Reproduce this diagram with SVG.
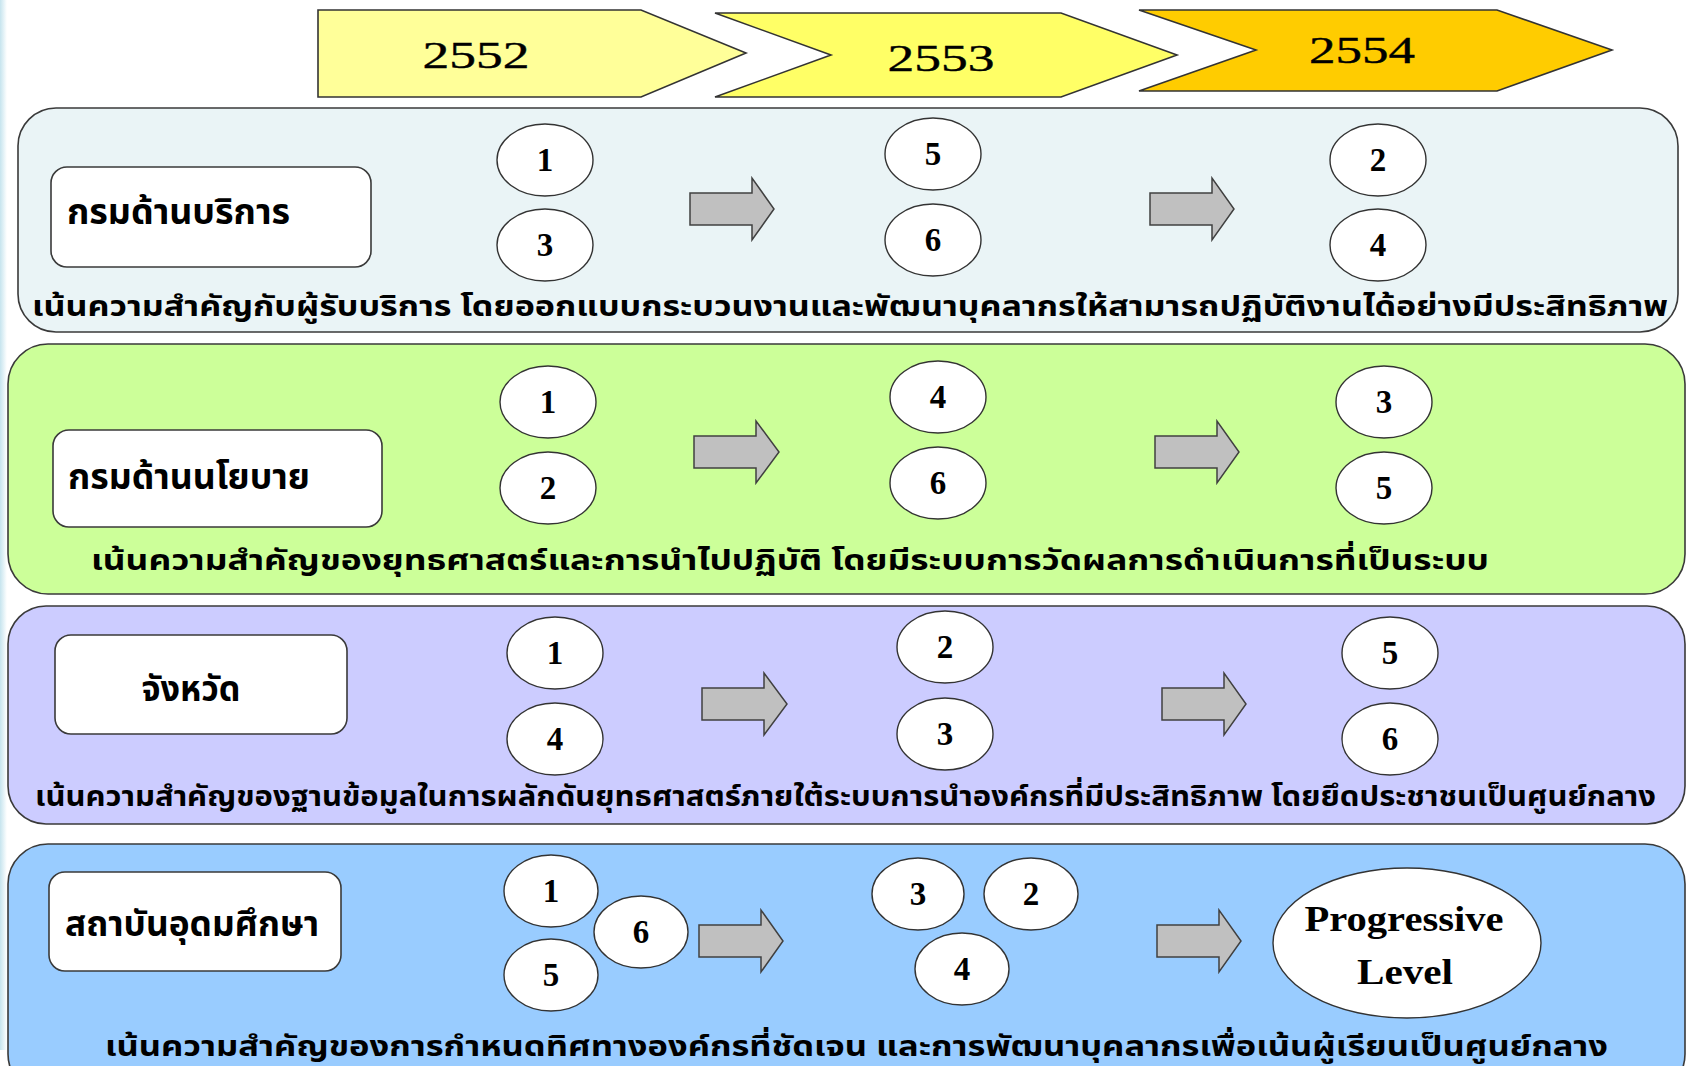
<svg xmlns="http://www.w3.org/2000/svg" width="1686" height="1066" viewBox="0 0 1686 1066">
<defs>
<style>
.panel{stroke:#3a3a3a;stroke-width:1.6}
.lbl{fill:#fff;stroke:#3a3a3a;stroke-width:1.6}
.cir{fill:#fff;stroke:#333;stroke-width:1.4}
.chev{stroke:#333;stroke-width:1.6}
.arr{fill:#c0c0c0;stroke:#404040;stroke-width:1.5;stroke-linejoin:miter}
.num{font-family:"Liberation Serif",serif;font-weight:bold;font-size:33px;fill:#000;text-anchor:middle}
.yr{font-family:"Liberation Serif",serif;font-size:38px;fill:#000;text-anchor:middle;stroke:#000;stroke-width:0.4}
.th{font-family:"Noto Sans Thai","Noto Sans","DejaVu Sans",sans-serif;font-weight:bold;fill:#000}
.lt{font-size:35px}
.cap{font-size:28px}
.pl{font-family:"Liberation Serif",serif;font-weight:bold;font-size:36px;fill:#000;text-anchor:middle}
</style>
<linearGradient id="edge" x1="0" x2="1" y1="0" y2="0">
<stop offset="0" stop-color="#c6e4ee"/>
<stop offset="1" stop-color="#ffffff"/>
</linearGradient>
</defs>
<rect width="1686" height="1066" fill="#fff"/>
<rect x="0" y="0" width="7" height="1050" fill="url(#edge)"/>

<g id="year-2552">
<path class="chev" fill="#ffff99" d="M318,10 H641 L746,53 L641,97 H318 Z"/>
<text class="yr" x="476" y="68" textLength="107" lengthAdjust="spacingAndGlyphs">2552</text>
</g>
<g id="year-2553">
<path class="chev" fill="#ffff66" d="M715,13 H1061 L1177,55 L1061,97 H715 L831,55 Z"/>
<text class="yr" x="941" y="71" textLength="107" lengthAdjust="spacingAndGlyphs">2553</text>
</g>
<g id="year-2554">
<path class="chev" fill="#ffcc00" d="M1139,10 H1497 L1612,50 L1497,91 H1139 L1256,50 Z"/>
<text class="yr" x="1362" y="63" textLength="106" lengthAdjust="spacingAndGlyphs">2554</text>
</g>

<g id="panel-service">
<rect class="panel" x="18" y="108" width="1660" height="224" rx="38" fill="#eaf4f6"/>
<rect class="lbl" x="51" y="167" width="320" height="100" rx="16"/>
<text class="th lt" x="67" y="224" textLength="223" lengthAdjust="spacingAndGlyphs">กรมด้านบริการ</text>
<text class="th cap" x="32" y="316" textLength="1636" lengthAdjust="spacingAndGlyphs">เน้นความสำคัญกับผู้รับบริการ โดยออกแบบกระบวนงานและพัฒนาบุคลากรให้สามารถปฏิบัติงานได้อย่างมีประสิทธิภาพ</text>
</g>
<g id="panel-policy">
<rect class="panel" x="8" y="344" width="1677" height="250" rx="40" fill="#ccff99"/>
<rect class="lbl" x="53" y="430" width="329" height="97" rx="16"/>
<text class="th lt" x="68" y="489" textLength="242" lengthAdjust="spacingAndGlyphs">กรมด้านนโยบาย</text>
<text class="th cap" x="91" y="570" textLength="1398" lengthAdjust="spacingAndGlyphs">เน้นความสำคัญของยุทธศาสตร์และการนำไปปฏิบัติ  โดยมีระบบการวัดผลการดำเนินการที่เป็นระบบ</text>
</g>
<g id="panel-province">
<rect class="panel" x="8" y="606" width="1677" height="218" rx="38" fill="#ccccff"/>
<rect class="lbl" x="55" y="635" width="292" height="99" rx="16"/>
<text class="th lt" x="191" y="701" text-anchor="middle" textLength="99" lengthAdjust="spacingAndGlyphs">จังหวัด</text>
<text class="th cap" x="35" y="806" textLength="1621" lengthAdjust="spacingAndGlyphs">เน้นความสำคัญของฐานข้อมูลในการผลักดันยุทธศาสตร์ภายใต้ระบบการนำองค์กรที่มีประสิทธิภาพ โดยยึดประชาชนเป็นศูนย์กลาง</text>
</g>
<g id="panel-university">
<rect class="panel" x="8" y="844" width="1677" height="250" rx="40" fill="#99ccff"/>
<rect class="lbl" x="49" y="872" width="292" height="99" rx="16"/>
<text class="th lt" x="65" y="936" textLength="254" lengthAdjust="spacingAndGlyphs">สถาบันอุดมศึกษา</text>
<text class="th cap" x="105" y="1056" textLength="1503" lengthAdjust="spacingAndGlyphs">เน้นความสำคัญของการกำหนดทิศทางองค์กรที่ชัดเจน และการพัฒนาบุคลากรเพื่อเน้นผู้เรียนเป็นศูนย์กลาง</text>
</g>

<g id="connectors">
<path class="arr" d="M690,193 H752 V178 L774,209 L752,240 V225 H690 Z"/>
<path class="arr" d="M1150,193 H1212 V178 L1234,209 L1212,240 V225 H1150 Z"/>
<path class="arr" d="M694,436 H756 V421 L779,452 L756,483 V468 H694 Z"/>
<path class="arr" d="M1155,436 H1217 V421 L1239,452 L1217,483 V468 H1155 Z"/>
<path class="arr" d="M702,688 H764 V673 L787,704 L764,735 V720 H702 Z"/>
<path class="arr" d="M1162,688 H1224 V673 L1246,704 L1224,735 V720 H1162 Z"/>
<path class="arr" d="M699,925 H761 V910 L783,941 L761,972 V957 H699 Z"/>
<path class="arr" d="M1157,925 H1219 V910 L1241,941 L1219,972 V957 H1157 Z"/>
</g>

<g id="p1-c1"><ellipse class="cir" cx="545" cy="160" rx="48" ry="36"/><text class="num" x="545" y="171">1</text></g>
<g id="p1-c3"><ellipse class="cir" cx="545" cy="245" rx="48" ry="36"/><text class="num" x="545" y="256">3</text></g>
<g id="p1-c5"><ellipse class="cir" cx="933" cy="154" rx="48" ry="36"/><text class="num" x="933" y="165">5</text></g>
<g id="p1-c6"><ellipse class="cir" cx="933" cy="240" rx="48" ry="36"/><text class="num" x="933" y="251">6</text></g>
<g id="p1-c2"><ellipse class="cir" cx="1378" cy="160" rx="48" ry="36"/><text class="num" x="1378" y="171">2</text></g>
<g id="p1-c4"><ellipse class="cir" cx="1378" cy="245" rx="48" ry="36"/><text class="num" x="1378" y="256">4</text></g>

<g id="p2-c1"><ellipse class="cir" cx="548" cy="402" rx="48" ry="36"/><text class="num" x="548" y="413">1</text></g>
<g id="p2-c2"><ellipse class="cir" cx="548" cy="488" rx="48" ry="36"/><text class="num" x="548" y="499">2</text></g>
<g id="p2-c4"><ellipse class="cir" cx="938" cy="397" rx="48" ry="36"/><text class="num" x="938" y="408">4</text></g>
<g id="p2-c6"><ellipse class="cir" cx="938" cy="483" rx="48" ry="36"/><text class="num" x="938" y="494">6</text></g>
<g id="p2-c3"><ellipse class="cir" cx="1384" cy="402" rx="48" ry="36"/><text class="num" x="1384" y="413">3</text></g>
<g id="p2-c5"><ellipse class="cir" cx="1384" cy="488" rx="48" ry="36"/><text class="num" x="1384" y="499">5</text></g>

<g id="p3-c1"><ellipse class="cir" cx="555" cy="653" rx="48" ry="36"/><text class="num" x="555" y="664">1</text></g>
<g id="p3-c4"><ellipse class="cir" cx="555" cy="739" rx="48" ry="36"/><text class="num" x="555" y="750">4</text></g>
<g id="p3-c2"><ellipse class="cir" cx="945" cy="647" rx="48" ry="36"/><text class="num" x="945" y="658">2</text></g>
<g id="p3-c3"><ellipse class="cir" cx="945" cy="734" rx="48" ry="36"/><text class="num" x="945" y="745">3</text></g>
<g id="p3-c5"><ellipse class="cir" cx="1390" cy="653" rx="48" ry="36"/><text class="num" x="1390" y="664">5</text></g>
<g id="p3-c6"><ellipse class="cir" cx="1390" cy="739" rx="48" ry="36"/><text class="num" x="1390" y="750">6</text></g>

<g id="p4-c1"><ellipse class="cir" cx="551" cy="891" rx="47" ry="36"/><text class="num" x="551" y="902">1</text></g>
<g id="p4-c5"><ellipse class="cir" cx="551" cy="975" rx="47" ry="36"/><text class="num" x="551" y="986">5</text></g>
<g id="p4-c6"><ellipse class="cir" cx="641" cy="932" rx="47" ry="36"/><text class="num" x="641" y="943">6</text></g>
<g id="p4-c3"><ellipse class="cir" cx="918" cy="894" rx="46" ry="36"/><text class="num" x="918" y="905">3</text></g>
<g id="p4-c2"><ellipse class="cir" cx="1031" cy="894" rx="47" ry="36"/><text class="num" x="1031" y="905">2</text></g>
<g id="p4-c4"><ellipse class="cir" cx="962" cy="969" rx="47" ry="36"/><text class="num" x="962" y="980">4</text></g>
<g id="p4-progressive"><ellipse class="cir" cx="1407" cy="943" rx="134" ry="75"/>
<text class="pl" x="1404" y="931" textLength="199" lengthAdjust="spacingAndGlyphs">Progressive</text>
<text class="pl" x="1405" y="984" textLength="96" lengthAdjust="spacingAndGlyphs">Level</text></g>
</svg>
